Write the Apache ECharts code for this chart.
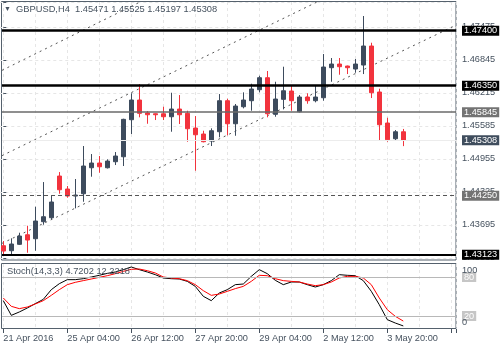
<!DOCTYPE html>
<html><head><meta charset="utf-8">
<script src="https://cdn.jsdelivr.net/npm/echarts@6/dist/echarts.min.js"></script>
<style>html,body{margin:0;padding:0;background:#fff}#c{width:500px;height:350px}</style>
</head><body><div id="c"></div>
<script>
// ---------- data ----------
const symbolName = 'GBPUSD,H4';
const openP  = [1.43295,1.43200,1.43322,1.43505,1.43429,1.43754,1.43830,1.44626,1.44378,1.44244,1.44288,1.44784,1.44874,1.44784,1.44899,1.44994,1.45701,1.46077,1.45829,1.45815,1.45815,1.45758,1.45905,1.45823,1.45542,1.45428,1.45294,1.45472,1.46064,1.45624,1.45949,1.46064,1.46274,1.46503,1.45804,1.46090,1.46249,1.45854,1.46134,1.46064,1.46121,1.46694,1.46764,1.46726,1.46669,1.46745,1.47108,1.46230,1.45638,1.45338,1.45471];
const closeP = [1.43194,1.43328,1.43480,1.43404,1.43767,1.43849,1.44130,1.44364,1.44244,1.44263,1.44817,1.44874,1.44803,1.44912,1.45008,1.45708,1.46077,1.45823,1.45796,1.45796,1.45758,1.45905,1.45796,1.45529,1.45414,1.45281,1.45491,1.46064,1.45624,1.45962,1.46077,1.46287,1.46503,1.45815,1.46096,1.46254,1.46064,1.46134,1.46064,1.46134,1.46707,1.46764,1.46713,1.46694,1.46764,1.47108,1.46216,1.45605,1.45319,1.45471,1.45308];
const lowP   = [1.43131,1.43123,1.43310,1.43162,1.43200,1.43696,1.43799,1.44288,1.44212,1.44009,1.44135,1.44613,1.44689,1.44770,1.44836,1.44817,1.45428,1.45747,1.45624,1.45695,1.45695,1.45472,1.45619,1.45281,1.44727,1.45269,1.45199,1.45365,1.45403,1.45395,1.45918,1.45873,1.46224,1.45747,1.45758,1.45899,1.45873,1.45840,1.46006,1.46033,1.46064,1.46426,1.46560,1.46573,1.46598,1.46573,1.46115,1.45300,1.45281,1.45300,1.45197];
const highP  = [1.43385,1.43437,1.43544,1.43677,1.44040,1.44511,1.44244,1.44702,1.44435,1.44569,1.45199,1.45046,1.45008,1.44945,1.45084,1.45720,1.46205,1.46382,1.45867,1.45823,1.45949,1.46216,1.46172,1.45873,1.45771,1.45491,1.45537,1.46191,1.46102,1.46001,1.46224,1.46388,1.46541,1.46631,1.46426,1.46713,1.46363,1.46172,1.46205,1.46363,1.46955,1.46879,1.46879,1.46735,1.46860,1.47681,1.47171,1.46293,1.45739,1.45504,1.45525];
const stochK = [43.6,21,26.2,32.3,39,45.6,60.5,69.7,75.9,75.9,77.4,80,82.6,85.6,87.7,91.3,95.4,91.3,87.7,83.6,78.5,77.4,76.9,73.3,65.6,50.3,43.6,55.4,60.5,68.2,69.2,81,91.3,85.1,74.9,68.2,72.3,72.3,68.2,64.6,68.2,74.4,83.6,82.6,82,74.4,58,37.4,14.4,9.2,4.7202];
const stochD = [47.7,34.9,31.3,33.8,38.5,43.6,51.8,60.5,68.2,71.8,74.4,76.9,79.5,82,85.1,88.7,91.8,92.3,89.7,86.2,80,78.5,77.4,74.4,68.2,59,51.8,53.8,57.9,62.1,65.6,73.3,82.6,82,77.4,74.4,73.3,72.3,69.2,66.7,68.2,72.3,78.5,81,81,78.5,68.2,47.7,29.7,19.5,12.2218];
const xTickLabels = ['21 Apr 2016','25 Apr 04:00','26 Apr 12:00','27 Apr 20:00','29 Apr 04:00','2 May 12:00','3 May 20:00'];
const levelPrices = [1.47400, 1.46350, 1.45845, 1.44250, 1.43123];
const trendA = [[-0.16, 1.46644], [18, 1.48017]];
const trendB = [[-0.16, 1.45015], [40, 1.48007]];
const trendC = [[-0.16, 1.43341], [56.59, 1.47506]];
const priceTickStart = 1.43065, priceTickStep = 0.0063;
const stochLevels = [80, 20];
const stochEnds = [100, 0];

// ---------- layout / style ----------
const X_MIN = -8, X_MAX = 56.59, X_LEFT = -0.16, LABEL_EVERY = 8;
const FONT = 'Liberation Sans';
const SLATE = '#46525f';
const BULL = '#3d4b5d', BEAR = '#f2333d';
const levelStyles = [
  {color:'#000', width:2.5, type:'solid', bg:'#000'},
  {color:'#000', width:2.5, type:'solid', bg:'#000'},
  {color:'#6a6a6a', width:1.5, type:'solid', bg:'#737373'},
  {color:'#555', width:1, type:[4,3], bg:'#737373'},
  {color:'#000', width:2, type:'solid', bg:'#000'}
];
const labelBox = (bg, fg) => ({show:true, position:'end', distance:6, backgroundColor:bg, color:fg,
  fontSize:9.2, fontFamily:FONT, padding:[1,2,0,2]});

const n = openP.length;
const last = n - 1;
const candleData = openP.map((o, i) => [i, o, closeP[i], lowP[i], highP[i]]);
const curPrice = closeP[last];

const priceMarks = levelPrices.map((p, k) => [
  {coord:[X_LEFT, p], lineStyle:{color:levelStyles[k].color, width:levelStyles[k].width, type:levelStyles[k].type},
   label:Object.assign(labelBox(levelStyles[k].bg, '#fff'), {formatter:() => p.toFixed(5)})},
  {coord:[X_MAX, p]}
]);
priceMarks.push([
  {coord:[X_LEFT, curPrice], lineStyle:{color:'#ececec', width:1, type:'solid'},
   label:Object.assign(labelBox('#3f4d5d', '#fff'), {formatter:() => curPrice.toFixed(5)})},
  {coord:[X_MAX, curPrice]}
]);

const stochMarks = stochLevels.map(v => [
  {coord:[X_LEFT, v], lineStyle:{color:'#b8b8b8', width:1, type:'solid'},
   label:Object.assign(labelBox('#c6c6c6', '#fff'), {formatter:() => String(v)})},
  {coord:[X_MAX, v]}
]);
stochEnds.forEach((v, k) => stochMarks.push([
  {coord:[X_LEFT, v], lineStyle:{color:'rgba(0,0,0,0)', width:1},
   label:{show:true, position:'end', distance:6, color:SLATE, fontSize:9.2, fontFamily:FONT,
     formatter:'{a|' + v + '}',
     rich:{a:{color:SLATE, fontSize:9.2, fontFamily:FONT, padding: k === 0 ? [12,0,0,0] : [0,0,13,0]}}}},
  {coord:[X_MAX, v]}
]));

const trendSeries = [trendA, trendB, trendC].map(t => ({
  type:'line', xAxisIndex:0, yAxisIndex:0, data:t, showSymbol:false, symbol:'none', silent:true,
  lineStyle:{color:'#555', width:1, type:[2,4]}, clip:true, z:1
}));

const gridLine = {show:true, lineStyle:{color:'#e6e6e6', width:1, type:[3,3]}};
const title = '{t|\u25BC}  ' + symbolName + '  ' + [openP[last], highP[last], lowP[last], closeP[last]].map(v => v.toFixed(5)).join(' ');
const stochTitle = 'Stoch(14,3,3) ' + stochK[last].toFixed(4) + ' ' + stochD[last].toFixed(4);

const chart = echarts.init(document.getElementById('c'), null, {renderer:'canvas'});
chart.setOption({
  animation:false,
  backgroundColor:'#fff',
  title:[
    {text:title, left:4, top:5, padding:0,
     textStyle:{fontSize:9.3, fontWeight:'normal', color:SLATE, fontFamily:FONT, rich:{t:{fontSize:7, color:SLATE}}}},
    {text:stochTitle, left:7, top:267, padding:0,
     textStyle:{fontSize:9.3, fontWeight:'normal', color:SLATE, fontFamily:FONT}}
  ],
  grid:[
    {left:-60.7, right:44, top:2, height:255.8, outerBoundsMode:'none', containLabel:false},
    {left:-60.7, right:44, top:264, height:65, outerBoundsMode:'none', containLabel:false},
    {left:1.5, right:44, top:1.5, height:258.5, show:true, borderColor:'#55616d', borderWidth:1, backgroundColor:'transparent', outerBoundsMode:'none'},
    {left:1.5, right:44, top:263.5, height:65, show:true, borderColor:'#55616d', borderWidth:1, backgroundColor:'transparent', outerBoundsMode:'none'}
  ],
  xAxis:[
    {type:'value', gridIndex:0, min:X_MIN, max:X_MAX, interval:4,
     axisLine:{show:false}, axisTick:{show:false}, axisLabel:{show:false}, splitLine:gridLine},
    {type:'value', gridIndex:1, min:X_MIN, max:X_MAX, interval:LABEL_EVERY, position:'bottom',
     axisLine:{show:false}, axisTick:{show:true, length:4, lineStyle:{color:SLATE}},
     splitLine:{show:false},
     axisLabel:{show:true, align:'left', margin:5, color:SLATE, fontSize:9.2, fontFamily:FONT, hideOverlap:false,
       formatter:v => { const k = Math.round(v / LABEL_EVERY); return (Math.abs(v - k*LABEL_EVERY) < 1e-6 && k >= 0 && k < xTickLabels.length) ? xTickLabels[k] : ''; }}},
    {type:'value', gridIndex:1, min:X_MIN, max:X_MAX, interval:4, position:'bottom',
     axisLine:{show:false}, axisTick:{show:false}, axisLabel:{show:false}, splitLine:gridLine}
  ],
  yAxis:[
    {type:'value', gridIndex:0, position:'right', min:priceTickStart, max:1.479485, interval:priceTickStep,
     axisLine:{show:false}, axisTick:{show:true, length:3, lineStyle:{color:SLATE}},
     axisLabel:{show:true, margin:6, color:SLATE, fontSize:9.2, fontFamily:FONT,
       formatter:v => v > 1.4755 ? '' : v.toFixed(5)},
     splitLine:gridLine},
    {type:'value', gridIndex:1, position:'right', min:0, max:100,
     axisLine:{show:false}, axisTick:{show:false}, axisLabel:{show:false}, splitLine:{show:false}}
  ],
  series:[
    ...trendSeries,
    {type:'candlestick', xAxisIndex:0, yAxisIndex:0, data:candleData, barWidth:5, z:3,
     itemStyle:{color:BULL, color0:BEAR, borderColor:BULL, borderColor0:BEAR, borderWidth:1},
     markLine:{silent:true, symbol:['none','none'], animation:false, data:priceMarks}},
    {type:'line', xAxisIndex:1, yAxisIndex:1, data:stochK.map((v,i)=>[i,v]), showSymbol:false, symbol:'none',
     lineStyle:{color:'#000', width:1}, z:3,
     markLine:{silent:true, symbol:['none','none'], animation:false, data:stochMarks}},
    {type:'line', xAxisIndex:1, yAxisIndex:1, data:stochD.map((v,i)=>[i,v]), showSymbol:false, symbol:'none',
     lineStyle:{color:'#ff0000', width:1}, z:4}
  ]
});
</script></body></html>
